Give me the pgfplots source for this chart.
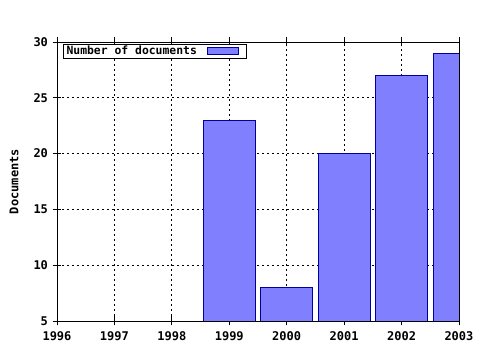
\documentclass[border=0pt]{standalone}
\usepackage{pgfplots}
\pgfplotsset{compat=1.18}
\usepackage{fontspec}
\setmainfont{DejaVu Sans Mono}[BoldFont={DejaVu Sans Mono Bold}]
\definecolor{barfill}{HTML}{8080FF}
\definecolor{barline}{HTML}{0000A0}
\begin{document}
\begin{tikzpicture}[x=1pt,y=1pt]
\path[use as bounding box] (0,0) rectangle (480,350);
\begin{axis}[
  at={(57pt,29pt)}, anchor=south west,
  scale only axis, width=402pt, height=279pt,
  xmin=1996, xmax=2003, ymin=5, ymax=30,
  xtick={1996,...,2003}, ytick={5,10,...,30},
  minor x tick num=3,
  xtick pos=both, ytick pos=left,
  xticklabel pos=lower,
  tick align=center,
  major tick length=9pt, minor tick length=4pt,
  tick style={black, line width=0.8pt},
  axis line style={black, line width=0.9pt},
  grid=major,
  major grid style={black, line width=0.7pt, dash pattern=on 2pt off 3pt},
  /pgf/number format/assume math mode=true,
  /pgf/number format/1000 sep={},
  tick label style={font=\fontsize{12}{14}\selectfont\bfseries},
  xticklabel style={yshift=-3pt},
  yticklabel style={xshift=-1pt},
  ylabel={Documents},
  ylabel style={font=\fontsize{12}{14}\selectfont\bfseries, yshift=8pt},
  legend style={at={(rel axis cs:0.015,0.993)}, anchor=north west,
    draw=black, line width=0.8pt, inner xsep=1.5pt, inner ysep=0pt, outer sep=0pt,
    font=\fontsize{11.4}{12}\selectfont\bfseries,
    legend cell align=left, row sep=0pt},
  legend plot pos=right,
  legend image code/.code={\path (0pt,0pt);
    \draw[#1, line width=0.8pt] (8pt,-3.5pt) rectangle (39pt,3.5pt);
    \path (45pt,0pt);},
]
\addplot[ybar, bar width=0.9, fill=barfill, draw=barline, line width=0.9pt]
  coordinates {(1999,23) (2000,8) (2001,20) (2002,27) (2003,29)};
\addlegendentry{Number of documents}
\end{axis}
\end{tikzpicture}
\end{document}
